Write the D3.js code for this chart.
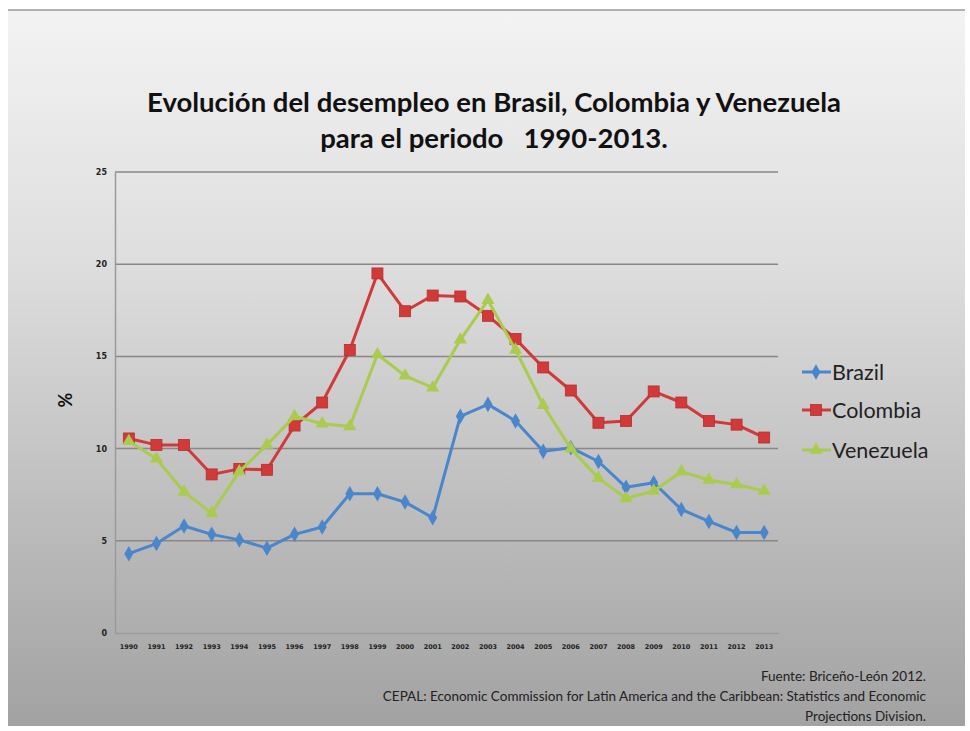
<!DOCTYPE html>
<html><head><meta charset="utf-8">
<script src="https://cdn.jsdelivr.net/npm/d3@7"></script>
<style>body{margin:0;background:#fff}svg{display:block}</style>
</head><body>
<script>
const years = ["1990","1991","1992","1993","1994","1995","1996","1997","1998","1999","2000","2001","2002","2003","2004","2005","2006","2007","2008","2009","2010","2011","2012","2013"];
const brazil =    [4.3,4.85,5.8,5.35,5.05,4.6,5.35,5.75,7.55,7.55,7.1,6.25,11.75,12.4,11.5,9.85,10.05,9.3,7.9,8.15,6.7,6.05,5.45,5.45];
const colombia =  [10.55,10.2,10.2,8.6,8.9,8.85,11.25,12.5,15.35,19.5,17.45,18.3,18.25,17.2,15.95,14.4,13.15,11.4,11.5,13.1,12.5,11.5,11.3,10.6];
const venezuela = [10.4,9.45,7.65,6.5,8.75,10.2,11.75,11.35,11.2,15.1,13.95,13.3,15.9,18.05,15.35,12.35,10.0,8.4,7.3,7.7,8.75,8.3,8.05,7.7];
const seriesNames = ["Brazil","Colombia","Venezuela"];
const seriesData = [brazil, colombia, venezuela];
const seriesColors = ["#4a86cc","#d23a3a","#aacb4e"];
const yTicks = [0,5,10,15,20,25];

const W=970,H=731;
const svg=d3.select("body").append("svg").attr("width",W).attr("height",H);
const defs=svg.append("defs");
const g=defs.append("linearGradient").attr("id","bg").attr("x1",0).attr("y1",0).attr("x2",0).attr("y2",1);
g.append("stop").attr("offset","0%").attr("stop-color","#f3f3f3");
g.append("stop").attr("offset","35%").attr("stop-color","#dedede");
g.append("stop").attr("offset","70%").attr("stop-color","#bdbdbd");
g.append("stop").attr("offset","100%").attr("stop-color","#a2a2a2");
svg.append("rect").attr("x",0).attr("y",0).attr("width",W).attr("height",H).attr("fill","#fff");
svg.append("rect").attr("x",8).attr("y",10).attr("width",957).attr("height",716).attr("fill","url(#bg)");
svg.append("line").attr("x1",8).attr("x2",965).attr("y1",10).attr("y2",10).attr("stroke","#9a9a9a").attr("stroke-width",1.5);

// title
const title=svg.append("text").attr("text-anchor","middle").attr("font-family","Lato, 'Open Sans', sans-serif")
 .attr("font-weight","bold").attr("font-size",27.5).attr("fill","#111");
title.append("tspan").attr("x",494).attr("y",112).text("Evolución del desempleo en Brasil, Colombia y Venezuela");
title.append("tspan").attr("x",494).attr("y",148).attr("xml:space","preserve").text("para el periodo   1990-2013.");

const L=115,R=778,T=172,B=633;
const x=d3.scaleBand().domain(years).range([L,R]);
const y=d3.scaleLinear().domain([0,25]).range([B,T]);

// gridlines
svg.append("g").selectAll("line").data(yTicks.filter(d=>d>0)).join("line")
 .attr("x1",L).attr("x2",R).attr("y1",d=>y(d)).attr("y2",d=>y(d))
 .attr("stroke","#8c8686").attr("stroke-width",1.5);

// axes
const ya=svg.append("g").attr("transform",`translate(${L},0)`).call(d3.axisLeft(y).tickValues(yTicks).tickSize(0).tickPadding(8));
ya.select(".domain").attr("stroke","#9a9a9a").attr("stroke-width",1.5);
ya.selectAll("text").attr("font-family","'DejaVu Sans', sans-serif").attr("font-size",8).attr("font-weight","bold").attr("fill","#222");
const xa=svg.append("g").attr("transform",`translate(0,${B})`).call(d3.axisBottom(x).tickSize(0).tickPadding(11));
xa.select(".domain").attr("stroke","#9a9a9a").attr("stroke-width",1.5);
xa.selectAll("text").attr("font-family","'DejaVu Sans', sans-serif").attr("font-size",6.5).attr("font-weight","bold").attr("fill","#222");

svg.append("text").attr("transform","translate(72,400) rotate(-90)").attr("text-anchor","middle")
 .attr("font-family","Lato, sans-serif").attr("font-weight","bold").attr("font-size",18).attr("fill","#111").text("%");

const line=d3.line().x((d,i)=>x(years[i])+x.bandwidth()/2).y(d=>y(d));
function marker(sel,k,color){
  if(k===0){
    sel.append("path").attr("d",d3.symbol(d3.symbolDiamond,70)()).attr("fill",color);
  } else if(k===1){
    sel.append("rect").attr("x",-5.5).attr("y",-5.5).attr("width",11).attr("height",11).attr("fill",color).attr("stroke","#b52f2f").attr("stroke-width",0.8);
  } else {
    sel.append("path").attr("d",d3.symbol(d3.symbolTriangle,75)()).attr("fill",color);
  }
}
seriesData.forEach((data,k)=>{
  svg.append("path").datum(data).attr("d",line).attr("fill","none").attr("stroke",seriesColors[k]).attr("stroke-width",3).attr("stroke-linejoin","round");
  svg.append("g").selectAll("g").data(data).join("g")
   .attr("transform",(d,i)=>`translate(${x(years[i])+x.bandwidth()/2},${y(d)})`)
   .each(function(){marker(d3.select(this),k,seriesColors[k]);});
});

// legend
const legY=[372,410,450];
seriesNames.forEach((n,k)=>{
  const lg=svg.append("g").attr("transform",`translate(0,${legY[k]})`);
  lg.append("line").attr("x1",802).attr("x2",831).attr("y1",0).attr("y2",0).attr("stroke",seriesColors[k]).attr("stroke-width",3);
  const m=lg.append("g").attr("transform","translate(816,0)");
  marker(m,k,seriesColors[k]);
  lg.append("text").attr("x",832).attr("y",7.5).attr("font-family","Lato, sans-serif").attr("font-size",21.5).attr("fill","#222").text(n);
});

// footnote
const foot=["Fuente: Briceño-León 2012.","CEPAL: Economic Commission for Latin America and the Caribbean: Statistics and Economic","Projections Division."];
svg.append("g").selectAll("text").data(foot).join("text")
 .attr("x",926).attr("y",(d,i)=>681+i*20).attr("text-anchor","end")
 .attr("font-family","Lato, sans-serif").attr("font-size",13.5).attr("fill","#222").text(d=>d);
</script>
</body></html>
